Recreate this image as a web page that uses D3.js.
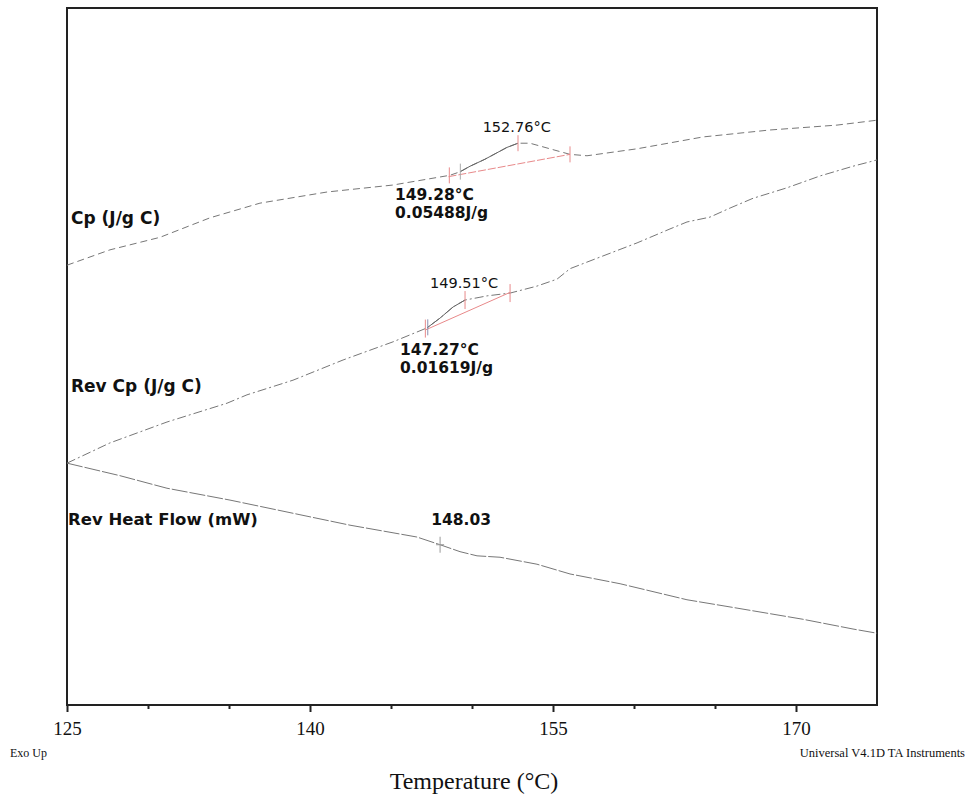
<!DOCTYPE html>
<html>
<head>
<meta charset="utf-8">
<script src="https://cdn.jsdelivr.net/npm/d3@7"></script>
<style>
  html, body { margin: 0; padding: 0; background: #fff; }
  svg { display: block; }
</style>
</head>
<body>
<svg id="chart" width="967" height="805"></svg>
<script>
// ---------------- data ----------------
const xDomain = [125, 175];
const majorTicks = [125, 140, 155, 170];
const minorTicks = [130, 135, 145, 150, 160, 165];

// relative signal (offset traces, arbitrary units 0-100)
const cpTemp   = [125.0,127.65,130.74,133.83,136.91,141.05,145.12,148.64,149.26,149.88,150.80,152.16,152.84,153.58,154.81,156.05,157.10,160.19,164.26,168.40,172.53,175.0];
const cpValue  = [63.1,65.3,67.1,69.9,72.0,73.6,74.6,76.0,76.5,77.3,78.3,80.0,80.6,80.6,79.8,79.0,78.8,79.8,81.5,82.5,83.2,83.9];

const revCpTemp  = [125.0,127.65,131.17,134.88,136.11,138.95,142.04,145.12,147.22,148.02,148.83,149.57,150.49,150.93,152.35,154.01,155.25,156.05,157.72,160.19,162.22,163.27,164.69,165.93,167.35,169.44,171.48,173.52,175.0];
const revCpValue = [34.7,37.6,40.6,43.3,44.5,46.6,49.5,52.1,54.1,55.5,57.1,58.1,58.5,58.7,59.1,60.1,61.1,62.6,64.1,66.3,68.3,69.3,70.0,71.3,72.7,74.2,75.9,77.3,78.2];

const rhfTemp  = [125.0,128.27,131.17,135.06,139.38,142.47,146.60,148.02,149.26,150.31,151.73,154.01,156.05,159.14,163.27,166.36,170.43,173.52,175.0];
const rhfValue = [34.7,32.9,31.1,29.4,27.3,25.8,24.1,23.0,22.0,21.4,21.2,20.2,18.8,17.4,15.1,13.9,12.3,10.9,10.3];

// analysis baselines (red) and markers
const cpBaseTemp = [148.55, 156.05];
const cpBaseValue = [75.8, 79.0];
const revCpBaseTemp = [147.12, 152.35];
const revCpBaseValue = [53.8, 59.2];

const cpMarkersRed = [148.6, 152.84, 156.05];
const cpMarkersGray = [149.28];
const revCpMarkersRed = [147.12, 149.57, 152.35];
const revCpMarkersGray = [147.27];
const rhfMarkers = [148.03];

const seriesLabels = ["Cp (J/g C)", "Rev Cp (J/g C)", "Rev Heat Flow (mW)"];

// ---------------- chart ----------------
const svg = d3.select("#chart");
const L = 67, R = 877, T = 8, B = 705;
const x = d3.scaleLinear().domain(xDomain).range([L, R]);
const y = d3.scaleLinear().domain([0, 100]).range([B, T]);

const zip = (a, b) => a.map((t, i) => [t, b[i]]);
const interp = (ts, vs, t) => {
  for (let i = 1; i < ts.length; i++) {
    if (t <= ts[i]) { const f = (t - ts[i-1]) / (ts[i] - ts[i-1]); return vs[i-1] + f * (vs[i] - vs[i-1]); }
  }
  return vs[vs.length - 1];
};
const line = d3.line().x(d => x(d[0])).y(d => y(d[1]));

// frame
svg.append("rect").attr("x", L).attr("y", T).attr("width", R - L).attr("height", B - T)
  .attr("fill", "none").attr("stroke", "#222").attr("stroke-width", 2);

// axes
const axMajor = svg.append("g").attr("transform", `translate(0,${B})`)
  .call(d3.axisBottom(x).tickValues(majorTicks).tickSize(7).tickPadding(10).tickFormat(d3.format("d")));
axMajor.select(".domain").remove();
axMajor.selectAll("line").attr("stroke", "#222").attr("stroke-width", 2);
axMajor.selectAll("text").attr("font-family", "'Liberation Serif', 'Times New Roman', serif")
  .attr("font-size", 19).attr("fill", "#111");

const axMinor = svg.append("g").attr("transform", `translate(0,${B})`)
  .call(d3.axisBottom(x).tickValues(minorTicks).tickSize(4).tickFormat(""));
axMinor.select(".domain").remove();
axMinor.selectAll("line").attr("stroke", "#222").attr("stroke-width", 2);

// curves
const curveColor = "#777";
svg.append("path").datum(zip(cpTemp, cpValue)).attr("d", line)
  .attr("fill", "none").attr("stroke", curveColor).attr("stroke-width", 1).attr("stroke-dasharray", "7,4");
svg.append("path").datum(zip(revCpTemp, revCpValue)).attr("d", line)
  .attr("fill", "none").attr("stroke", curveColor).attr("stroke-width", 1).attr("stroke-dasharray", "9,3,2,3");
svg.append("path").datum(zip(rhfTemp, rhfValue)).attr("d", line)
  .attr("fill", "none").attr("stroke", curveColor).attr("stroke-width", 1).attr("stroke-dasharray", "16,2");

// solid rising portions inside the transitions
const seg = (ts, vs, a, b) => zip(ts, vs).filter(d => d[0] >= a && d[0] <= b);
svg.append("path").datum(seg(cpTemp, cpValue, 149.26, 152.84)).attr("d", line)
  .attr("fill", "none").attr("stroke", "#666").attr("stroke-width", 1);
svg.append("path").datum(seg(revCpTemp, revCpValue, 147.22, 149.57)).attr("d", line)
  .attr("fill", "none").attr("stroke", "#666").attr("stroke-width", 1);

// baselines
const red = "#e8898a";
svg.append("path").datum(zip(cpBaseTemp, cpBaseValue)).attr("d", line)
  .attr("fill", "none").attr("stroke", red).attr("stroke-width", 1).attr("stroke-dasharray", "8,2");
svg.append("path").datum(zip(revCpBaseTemp, revCpBaseValue)).attr("d", line)
  .attr("fill", "none").attr("stroke", red).attr("stroke-width", 1);

// markers
function markers(ts, vs, temps, color, half) {
  temps.forEach(t => {
    const px = x(t), py = y(interp(ts, vs, t));
    svg.append("line").attr("x1", px).attr("x2", px).attr("y1", py - half).attr("y2", py + half)
      .attr("stroke", color).attr("stroke-width", 1);
  });
}
markers(cpTemp, cpValue, cpMarkersRed, red, 8);
markers(cpTemp, cpValue, cpMarkersGray, "#aaa", 8);
markers(revCpTemp, revCpValue, revCpMarkersRed, red, 9);
markers(revCpTemp, revCpValue, revCpMarkersGray, "#8a8fb0", 8);
rhfMarkers.forEach(t => {
  const px = x(t), py = y(interp(rhfTemp, rhfValue, t));
  svg.append("line").attr("x1", px).attr("x2", px).attr("y1", py - 8).attr("y2", py + 8).attr("stroke", "#999");
  svg.append("line").attr("x1", px - 4).attr("x2", px + 4).attr("y1", py).attr("y2", py).attr("stroke", "#999");
});

// annotation text
const sans = "'DejaVu Sans', Verdana, sans-serif";
function txt(s, px, py, size, bold, anchor) {
  svg.append("text").attr("x", px).attr("y", py).text(s)
    .attr("font-family", sans).attr("font-size", size).attr("font-weight", bold ? "bold" : "normal")
    .attr("fill", "#111").attr("text-anchor", anchor || "start");
}
txt("152.76°C", x(152.76), 132, 14.5, false, "middle");
txt("149.28°C", 395, 200, 15.5, true);
txt("0.05488J/g", 395, 218, 15.5, true);
txt("149.51°C", x(149.51), 288, 14.5, false, "middle");
txt("147.27°C", 400, 355, 15.5, true);
txt("0.01619J/g", 400, 373, 15.5, true);
txt("148.03", x(148.03) + 21, 525, 15.5, true, "middle");

// series labels
txt(seriesLabels[0], 71, 224, 17, true);
txt(seriesLabels[1], 71, 392, 17, true);
txt(seriesLabels[2], 68, 525, 16.5, true);

// footer texts
const serif = "'Liberation Serif', 'Times New Roman', serif";
svg.append("text").attr("x", 10).attr("y", 757).text("Exo Up")
  .attr("font-family", serif).attr("font-size", 12).attr("fill", "#111");
svg.append("text").attr("x", 965).attr("y", 757).text("Universal V4.1D TA Instruments")
  .attr("font-family", serif).attr("font-size", 12.5).attr("fill", "#111").attr("text-anchor", "end");
svg.append("text").attr("x", 474).attr("y", 789).text("Temperature (°C)")
  .attr("font-family", serif).attr("font-size", 24).attr("fill", "#111").attr("text-anchor", "middle");
</script>
</body>
</html>
